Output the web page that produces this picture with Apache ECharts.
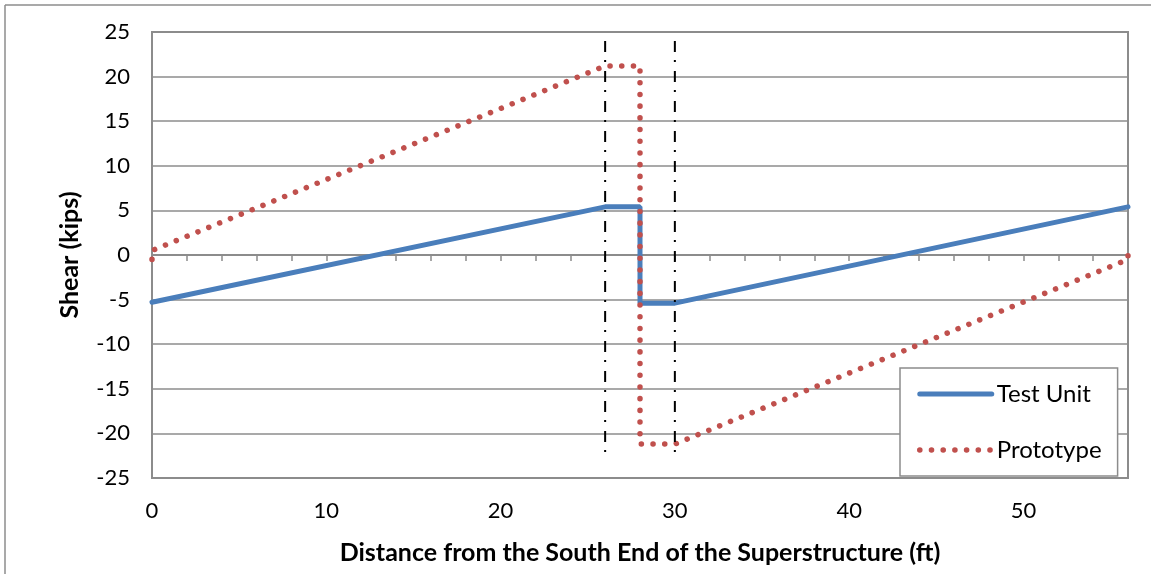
<!DOCTYPE html>
<html>
<head>
<meta charset="utf-8">
<script src="https://cdn.jsdelivr.net/npm/echarts@6/dist/echarts.min.js"></script>
<style>
html,body{margin:0;padding:0;background:#fff;}
#c{width:1151px;height:574px;}
</style>
</head>
<body>
<div id="c"></div>
<script>
// Data
const testUnit = [[0,-5.3],[26,5.4],[28,5.4],[28,-5.4],[30,-5.4],[56,5.4]];
const prototype = [[0,-0.5],[0,0.5],[26,21.2],[28,21.2],[28,-21.2],[30,-21.2],[56,-0.5],[56,0.5]];
const markerLeft = [[26,24],[26,-23]];
const markerRight = [[30,24],[30,-23]];
const xMin = 0, xMax = 56, xInterval = 10, xTickInterval = 2;
const yMin = -25, yMax = 25, yInterval = 5;
const xTitle = 'Distance from the South End of the Superstructure (ft)';
const yTitle = 'Shear (kips)';
const legendNames = ['Test Unit', 'Prototype'];

const FONT = 'Lato, "Open Sans", sans-serif';
const GRAY = '#8c8c8c';
const BLUE = '#4a7ebb';
const RED = '#c0504d';

const chart = echarts.init(document.getElementById('c'));
chart.setOption({
  animation: false,
  graphic: [
    {type:'line', shape:{x1:5,y1:5,x2:5,y2:574}, style:{stroke:GRAY,lineWidth:1.5}},
    {type:'line', shape:{x1:5,y1:5,x2:1151,y2:5}, style:{stroke:GRAY,lineWidth:1.5}}
  ],
  grid: {left:152, right:23, top:32, bottom:96, show:true, borderColor:GRAY, borderWidth:2, backgroundColor:'transparent'},
  legend: {
    data:[
      {name:legendNames[0], itemStyle:{opacity:0}, lineStyle:{width:5, color:BLUE}},
      {name:legendNames[1], itemStyle:{opacity:0}, lineStyle:{width:5.5, color:RED, type:[0.1,11.6], cap:'round'}}
    ],
    orient:'vertical', left:900, top:368,
    padding:[14,16,14,17],
    itemWidth:72, itemHeight:20, itemGap:32,
    backgroundColor:'#fff', borderColor:GRAY, borderWidth:1.5,
    textStyle:{fontFamily:FONT, fontSize:24, color:'#000'}
  },
  xAxis: [
    {
      type:'value', min:xMin, max:xMax, interval:xInterval, position:'bottom',
      axisLine:{show:false, onZero:false}, axisTick:{show:false}, splitLine:{show:false},
      axisLabel:{fontFamily:FONT, fontSize:22, color:'#000', margin:22,
        formatter: v => (v % xInterval === 0 ? String(v) : '')},
      name: xTitle, nameLocation:'middle', nameGap:62,
      nameTextStyle:{fontFamily:FONT, fontSize:25, fontWeight:'bold', color:'#000'}
    },
    {
      type:'value', min:xMin, max:xMax, interval:xTickInterval, position:'bottom',
      axisLine:{show:true, onZero:true, lineStyle:{color:GRAY, width:2}},
      axisTick:{show:true, length:6, lineStyle:{color:GRAY, width:1.5}},
      axisLabel:{show:false}, splitLine:{show:false}
    }
  ],
  yAxis: {
    type:'value', min:yMin, max:yMax, interval:yInterval,
    axisLine:{show:false}, axisTick:{show:false},
    splitLine:{show:true, lineStyle:{color:GRAY, width:1.5}},
    axisLabel:{fontFamily:FONT, fontSize:22, color:'#000', margin:22},
    name: yTitle, nameLocation:'middle', nameGap:70, nameRotate:90,
    nameTextStyle:{fontFamily:FONT, fontSize:25, fontWeight:'bold', color:'#000'}
  },
  series: [
    {
      name:legendNames[0], type:'line', data:testUnit, xAxisIndex:0,
      symbol:'none', lineStyle:{color:BLUE, width:5, cap:'round'},
      itemStyle:{color:BLUE}, z:3
    },
    {
      name:legendNames[1], type:'line', data:prototype, xAxisIndex:0,
      symbol:'none', lineStyle:{color:RED, width:5.5, type:[0.1,11.6], cap:'round'},
      itemStyle:{color:RED}, z:4
    },
    {
      name:'m1', type:'line', data:markerLeft, xAxisIndex:0, symbol:'none', silent:true,
      lineStyle:{color:'#000', width:2, type:[11,8,2,9]}, z:5
    },
    {
      name:'m2', type:'line', data:markerRight, xAxisIndex:0, symbol:'none', silent:true,
      lineStyle:{color:'#000', width:2, type:[11,8,2,9]}, z:5
    }
  ]
});
</script>
</body>
</html>
